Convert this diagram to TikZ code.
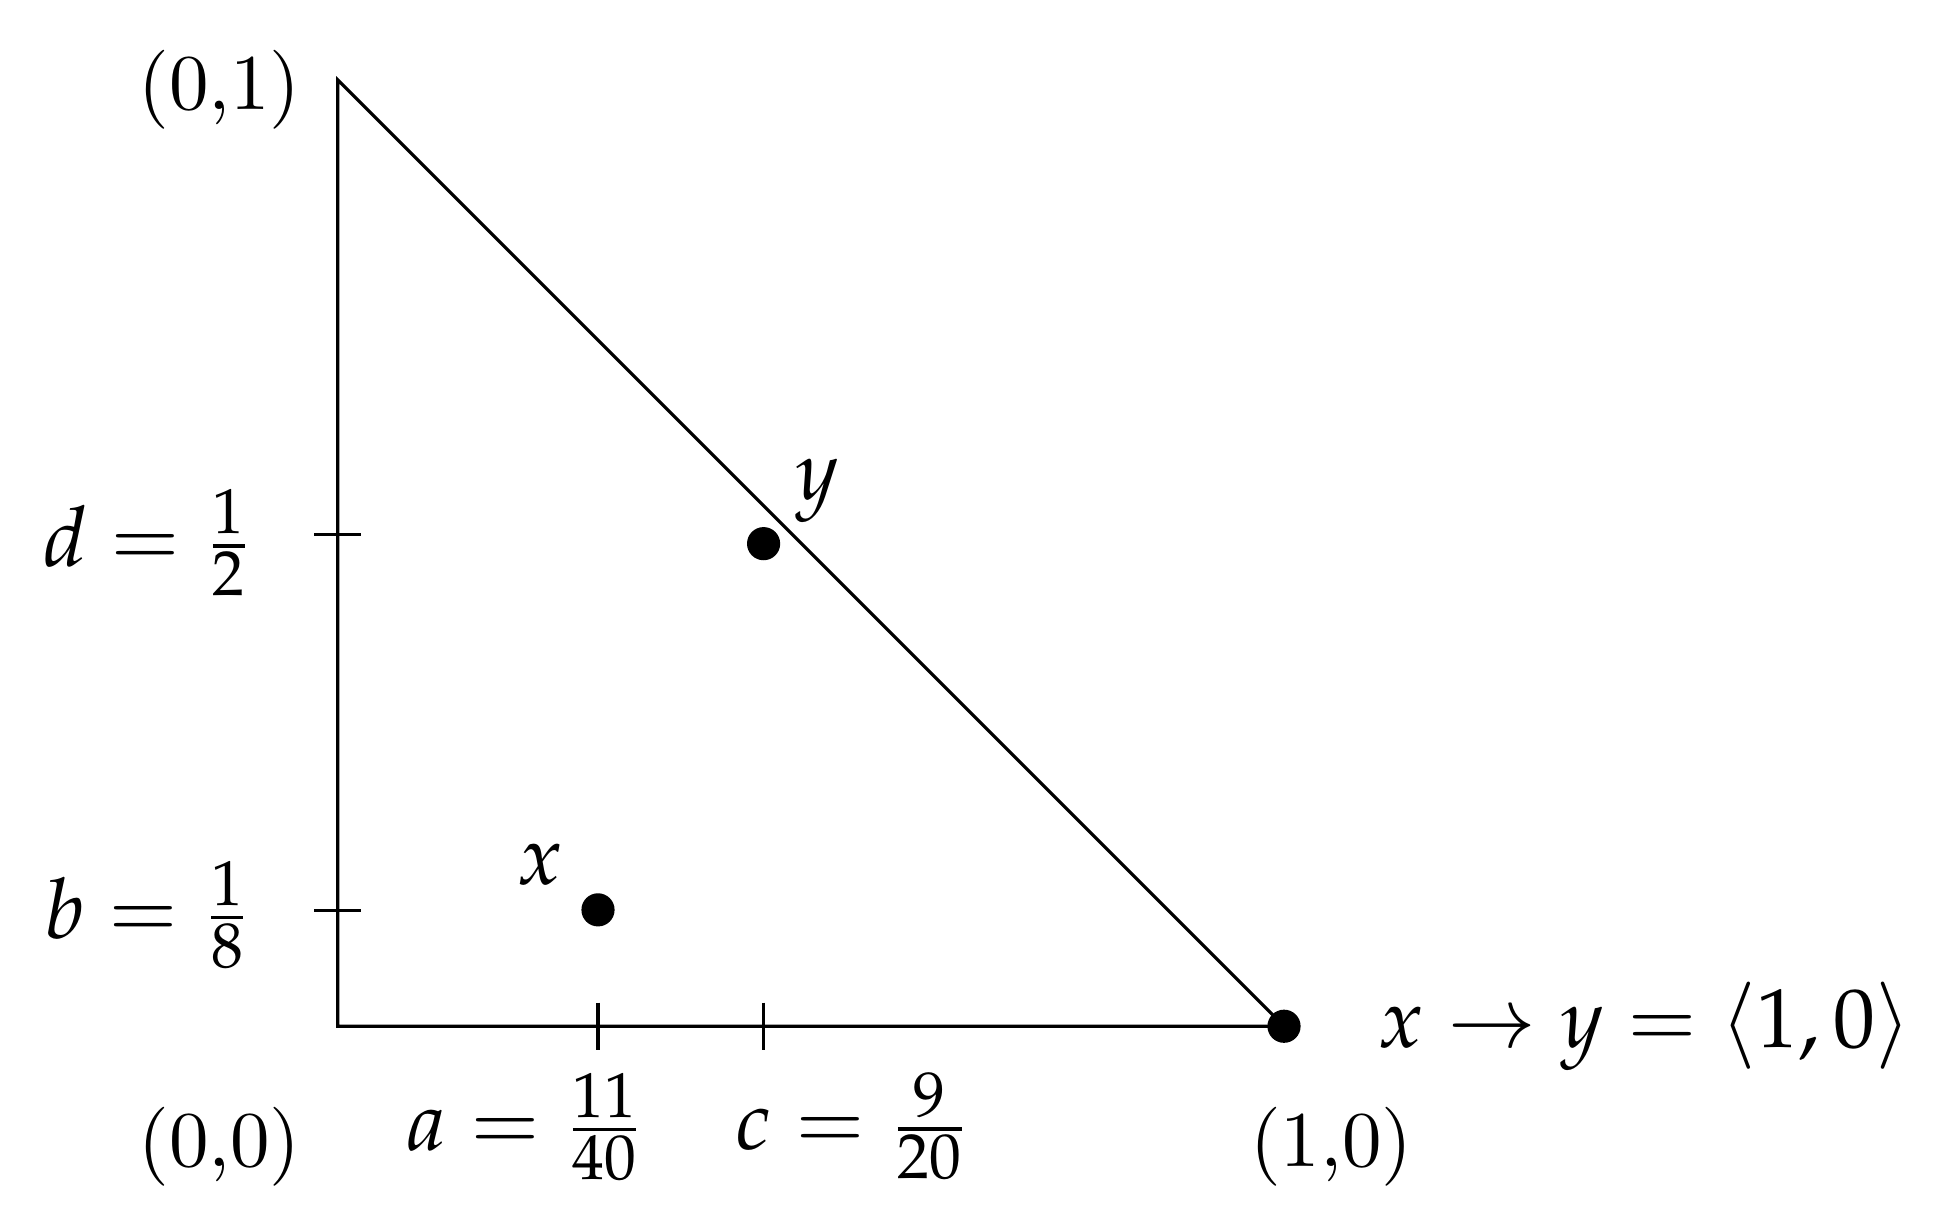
\documentclass[tikz,border=0pt]{standalone}
\usepackage{mathpazo}
\usetikzlibrary{positioning, calc}

\begin{document}
\begin{tikzpicture}[x=4.21cm, y=4.21cm,
		dot/.style={circle, fill=black, inner sep=0pt, minimum size=4.2pt},
		tickmark/.style={line width=0.4pt},
		mlabel/.style={font=\fontsize{10.6}{13}\selectfont}]
		\useasboundingbox (-0.357,-0.199) rectangle (1.689,1.0846);
		\coordinate (origin) at (0, 0);
		\coordinate (top) at (0, 1);
		\coordinate (right) at (1, 0);
		\draw (top) -- (origin) -- (right) -- cycle;
		\node[dot] (pR) at (right) {};
		\node[mlabel, anchor=west] (rule) at (1.070, 0) {$x \rightarrow y = \langle 1,0 \rangle$};
		
		% corners
		\node (cTop) at (-0.125, 0.990) {(0,1)};
		\node (cOrigin) at (-0.125, -0.127) {(0,0)};
		\node (cRight) at (1.050, -0.127) {(1,0)};
		
		% ticks on the axes
		\coordinate (ta) at (0.275, 0);
		\coordinate (tc) at (0.450, 0);
		\coordinate (tb) at (0, 0.122);
		\coordinate (td) at (0, 0.520);
		\draw[tickmark] ([yshift=3pt] ta) -- ([yshift=-3pt] ta);
		\draw[tickmark] ([yshift=3pt] tc) -- ([yshift=-3pt] tc);
		\draw[tickmark] ([xshift=-3pt] tb) -- ([xshift=3pt] tb);
		\draw[tickmark] ([xshift=-3pt] td) -- ([xshift=3pt] td);
		\node[mlabel] (la) at (0.199, -0.106) {$a = \frac{11}{40}$};
		\node[mlabel] (lc) at (0.545, -0.106) {$c = \frac{9}{20}$};
		\node[mlabel] (lb) at (-0.200, 0.118) {$b = \frac{1}{8}$};
		\node[mlabel] (ld) at (-0.200, 0.511) {$d = \frac{1}{2}$};
		
		% the two points
		\node[dot] (px) at (0.275, 0.123) {};
		\node[mlabel] (lx) at (0.214, 0.171) {$x$};
		\node[dot] (py) at (0.450, 0.510) {};
		\node[mlabel] (ly) at (0.507, 0.566) {$y$};
	\end{tikzpicture}
\end{document}
